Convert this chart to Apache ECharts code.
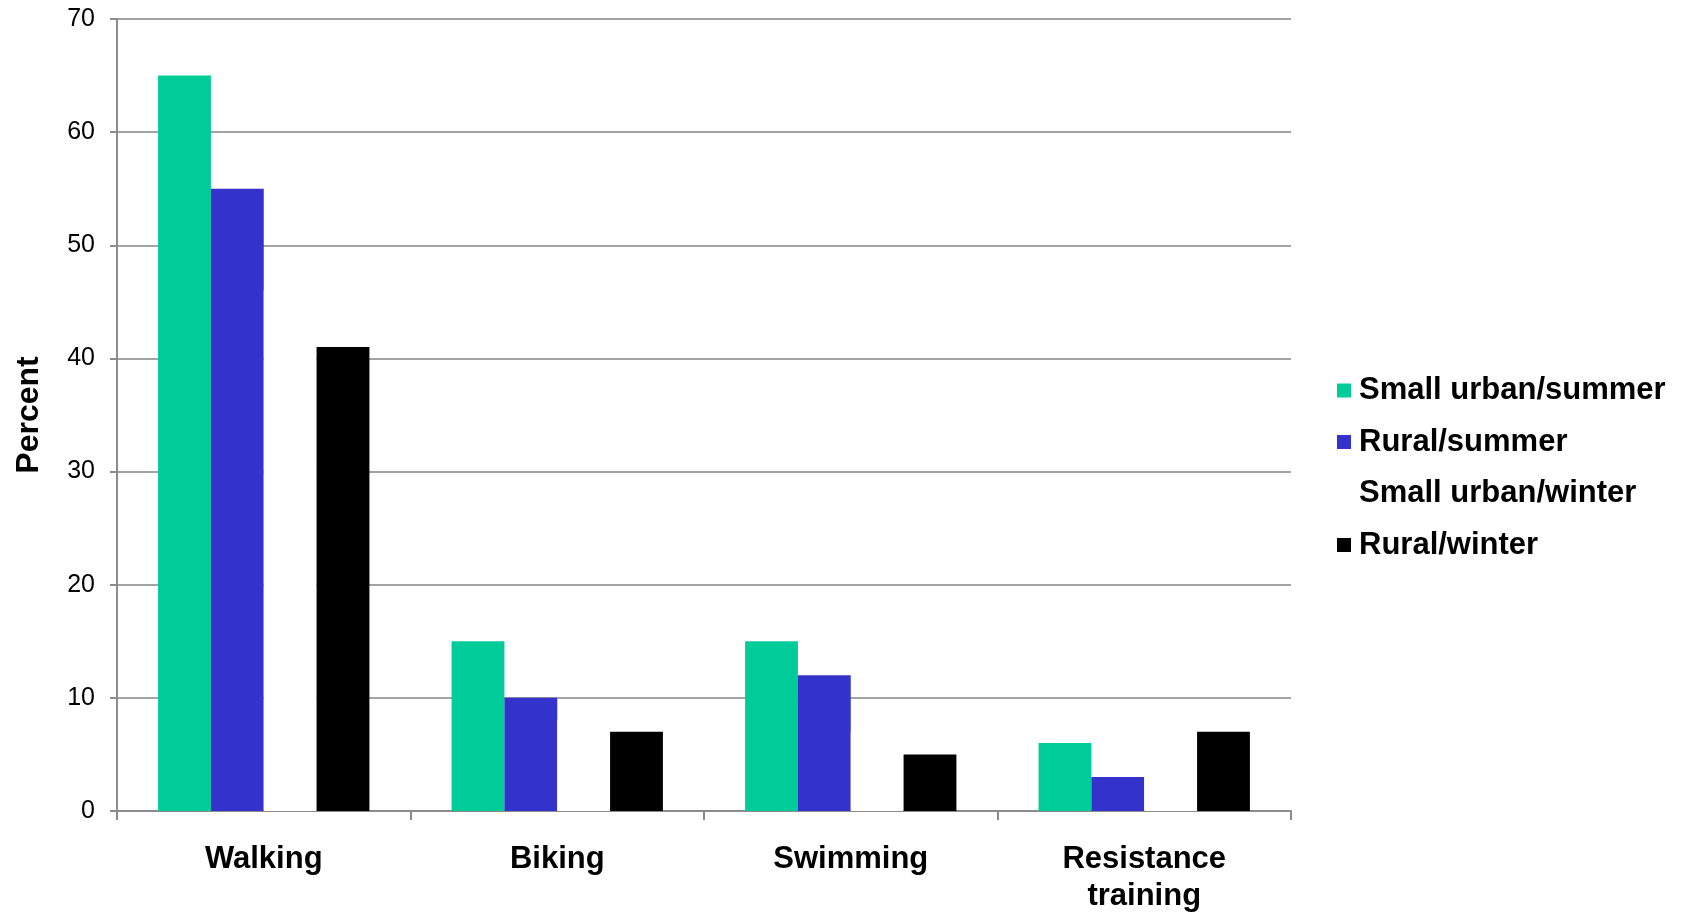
<!DOCTYPE html>
<html>
<head>
<meta charset="utf-8">
<script src="https://cdn.jsdelivr.net/npm/echarts@6/dist/echarts.min.js"></script>
<style>
  html, body { margin: 0; padding: 0; background: #fff; }
  #chart { width: 1690px; height: 914px; }
</style>
</head>
<body>
<div id="chart"></div>
<script>
// Activity categories along the x axis
const categories = ['Walking', 'Biking', 'Swimming', 'Resistance\ntraining'];

// Percent reporting each activity, by community type and season
const smallUrbanSummer = [65, 15, 15, 6];
const ruralSummer = [55, 10, 12, 3];
const smallUrbanWinter = [46, 8, 7, 4];
const ruralWinter = [41, 7, 5, 7];

const seriesNames = ['Small urban/summer', 'Rural/summer', 'Small urban/winter', 'Rural/winter'];
const seriesColors = ['#00CC99', '#3333CC', '#FFFFFF', '#000000'];
const seriesData = [smallUrbanSummer, ruralSummer, smallUrbanWinter, ruralWinter];

const yTicks = { min: 0, max: 70, interval: 10 };

const chart = echarts.init(document.getElementById('chart'), null, { renderer: 'canvas' });

const font = 'Liberation Sans, Arial, sans-serif';

chart.setOption({
  animation: false,
  backgroundColor: '#ffffff',
  grid: {
    left: 117, right: 399, top: 19, bottom: 103,
    containLabel: false,
    outerBoundsMode: 'none'
  },
  legend: {
    orient: 'vertical',
    left: 1332,
    top: 370,
    itemWidth: 14,
    itemHeight: 14,
    itemGap: 20.5,
    icon: 'rect',
    data: seriesNames,
    textStyle: {
      fontFamily: font,
      fontWeight: 'bold',
      fontSize: 31,
      color: '#000',
      lineHeight: 30,
      padding: [0, 0, 0, 3]
    }
  },
  xAxis: {
    type: 'category',
    data: categories,
    boundaryGap: true,
    axisLine: { show: true, lineStyle: { color: '#8c8c8c', width: 2 } },
    axisTick: { show: true, length: 9, lineStyle: { color: '#8c8c8c', width: 2 } },
    axisLabel: {
      fontFamily: font,
      fontWeight: 'bold',
      fontSize: 31,
      color: '#000',
      lineHeight: 37,
      margin: 30
    },
    splitLine: { show: false }
  },
  yAxis: {
    type: 'value',
    min: yTicks.min,
    max: yTicks.max,
    interval: yTicks.interval,
    name: 'Percent',
    nameLocation: 'middle',
    nameGap: 72,
    nameRotate: 90,
    nameTextStyle: {
      fontFamily: font,
      fontWeight: 'bold',
      fontSize: 32,
      color: '#000'
    },
    axisLine: { show: true, lineStyle: { color: '#8c8c8c', width: 2 } },
    axisTick: { show: true, length: 7, lineStyle: { color: '#8c8c8c', width: 2 } },
    axisLabel: {
      fontFamily: font,
      fontSize: 25,
      color: '#000',
      margin: 22
    },
    splitLine: { show: true, lineStyle: { color: '#a3a3a3', width: 2 } }
  },
  series: seriesNames.map((name, i) => ({
    name: name,
    type: 'bar',
    data: seriesData[i],
    barGap: '0%',
    barCategoryGap: '28%',
    itemStyle: { color: seriesColors[i] },
    emphasis: { disabled: true }
  }))
});
</script>
</body>
</html>
